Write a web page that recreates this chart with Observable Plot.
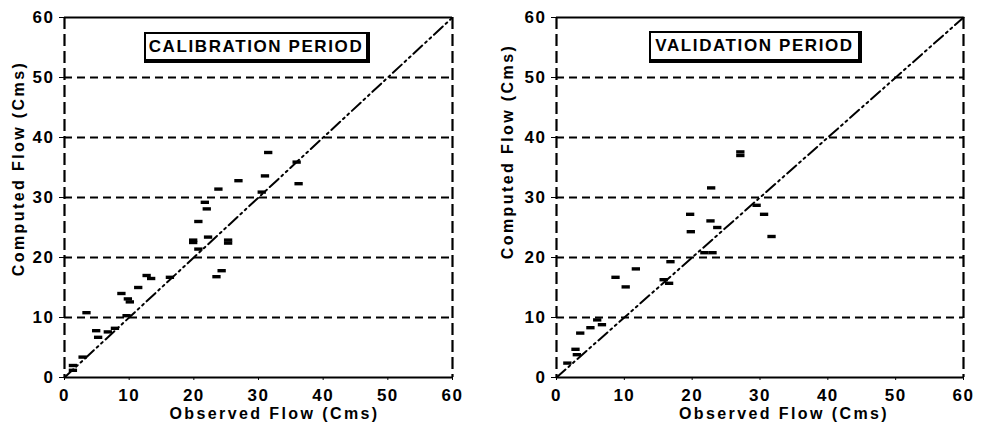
<!DOCTYPE html>
<html><head><meta charset="utf-8">
<script src="https://cdn.jsdelivr.net/npm/d3@7"></script>
<script src="https://cdn.jsdelivr.net/npm/@observablehq/plot@0.6"></script>
<style>
body{margin:0;background:#fff;}
#wrap{position:relative;width:984px;height:431px;overflow:hidden;font-family:"Liberation Sans",Arial,sans-serif;background:#fff;}
.panel{position:absolute;top:0;}
.tag{position:absolute;border:2px solid #000;border-right-width:4px;border-bottom-width:4px;font-size:17px;letter-spacing:1.6px;display:flex;align-items:center;justify-content:center;box-sizing:border-box;background:#fff;color:#000;font-weight:bold;}
</style></head><body><div id="wrap"></div>
<script>
// Calibration period
const calObserved = [1.3,1.3,2.8,3.4,4.9,5.2,6.7,7.8,9.6,8.8,9.8,10.1,11.4,12.7,13.4,16.3,20.7,21.7,22.0,19.9,19.9,20.7,22.2,23.8,23.5,24.3,25.3,25.3,26.9,30.5,31.0,31.5,35.9,36.2];
const calComputed = [2.0,1.2,3.4,10.8,7.8,6.7,7.6,8.2,10.3,14.0,13.1,12.6,15.0,17.0,16.5,16.7,26.0,29.2,28.1,22.9,22.5,21.4,23.4,31.4,16.8,17.8,22.9,22.4,32.8,30.9,33.6,37.5,35.9,32.3];
// Validation period
const valObserved = [1.6,2.8,3.0,3.5,5.0,6.0,6.7,8.7,10.2,11.7,15.8,16.6,16.8,19.7,19.8,21.8,23.0,22.8,22.7,23.7,27.1,27.1,29.5,30.6,31.7];
const valComputed = [2.4,4.7,3.8,7.4,8.3,9.6,8.8,16.7,15.1,18.1,16.3,15.7,19.3,27.2,24.3,20.8,20.8,31.6,26.1,25.0,37.6,37.0,28.7,27.2,23.5];

const axisTicks = [0,10,20,30,40,50,60];
const gridLevels = [10,20,30,40,50];
const frameLimits = [0,60];
const identityLine = [0,60];
const panelTitles = ["CALIBRATION PERIOD","VALIDATION PERIOD"];
const xTitle = "Observed Flow (Cms)";
const yTitle = "Computed Flow (Cms)";

const dash = {draw(ctx, size){ const r = Math.sqrt(size/Math.PI); ctx.rect(-r*1.6, -r*0.65, r*3.2, r*1.3); }};

function panel(obs, comp, mr, yOff, yDy, xDx){
  const pts = obs.map((x,i)=>({x, y: comp[i]}));
  return Plot.plot({
    width: 492, height: 431,
    marginLeft: 64, marginRight: mr, marginTop: 17, marginBottom: 54,
    x:{domain:[0,60]}, y:{domain:[0,60]},
    style:{fontFamily:'"Liberation Sans",Arial,sans-serif', fontSize:"17px", fontWeight:"bold", color:"#000", background:"#fff", overflow:"visible"},
    marks:[
      Plot.ruleY(gridLevels,{stroke:"#000",strokeWidth:2,strokeDasharray:"8,5"}),
      Plot.ruleX(frameLimits,{stroke:"#000",strokeWidth:2.2,strokeDasharray:"12,5"}),
      Plot.ruleY([60],{stroke:"#000",strokeWidth:1.8}),
      Plot.ruleY([0],{stroke:"#000",strokeWidth:2.2}),
      Plot.line(identityLine,{x:d=>d,y:d=>d,stroke:"#000",strokeWidth:2,strokeDasharray:"12,4,2,4,2,4"}),
      Plot.dot(pts,{x:"x",y:"y",symbol:dash,r:2.6,fill:"#000",stroke:null}),
      Plot.axisY(axisTicks,{tickSize:5,tickPadding:5,label:null}),
      Plot.axisX(axisTicks,{tickSize:3,tickPadding:8,label:null}),
      Plot.text([yTitle],{frameAnchor:"left",textAnchor:"middle",rotate:-90,dx:-yOff,dy:yDy,fontSize:16,fontWeight:"bold"}),
      Plot.text([xTitle],{frameAnchor:"bottom",dy:41,dx:xDx,fontSize:16,fontWeight:"bold"})
    ]
  });
}

const wrap = document.getElementById("wrap");
const specs = [
  {obs:calObserved, comp:calComputed, mr:40, yOff:46, yDy:-29, xDx:16, left:0, box:[144,32,226,31]},
  {obs:valObserved, comp:valComputed, mr:21, yOff:49, yDy:-46, xDx:24, left:492, box:[157,31,213,32]}
];
specs.forEach((s,i)=>{
  const svg = panel(s.obs, s.comp, s.mr, s.yOff, s.yDy, s.xDx);
  svg.classList.add("panel");
  svg.style.left = s.left + "px";
  svg.querySelectorAll('[aria-label="text"] text').forEach(t=>t.setAttribute("letter-spacing","2.4"));
  svg.querySelectorAll('[aria-label="y-axis tick label"] text, [aria-label="x-axis tick label"] text').forEach(t=>t.setAttribute("letter-spacing","1.5"));
  wrap.appendChild(svg);
  const b = document.createElement("div");
  b.className = "tag";
  b.textContent = panelTitles[i];
  b.style.left = (s.left + s.box[0]) + "px";
  b.style.top = s.box[1] + "px";
  b.style.width = s.box[2] + "px";
  b.style.height = s.box[3] + "px";
  wrap.appendChild(b);
});
</script></body></html>
